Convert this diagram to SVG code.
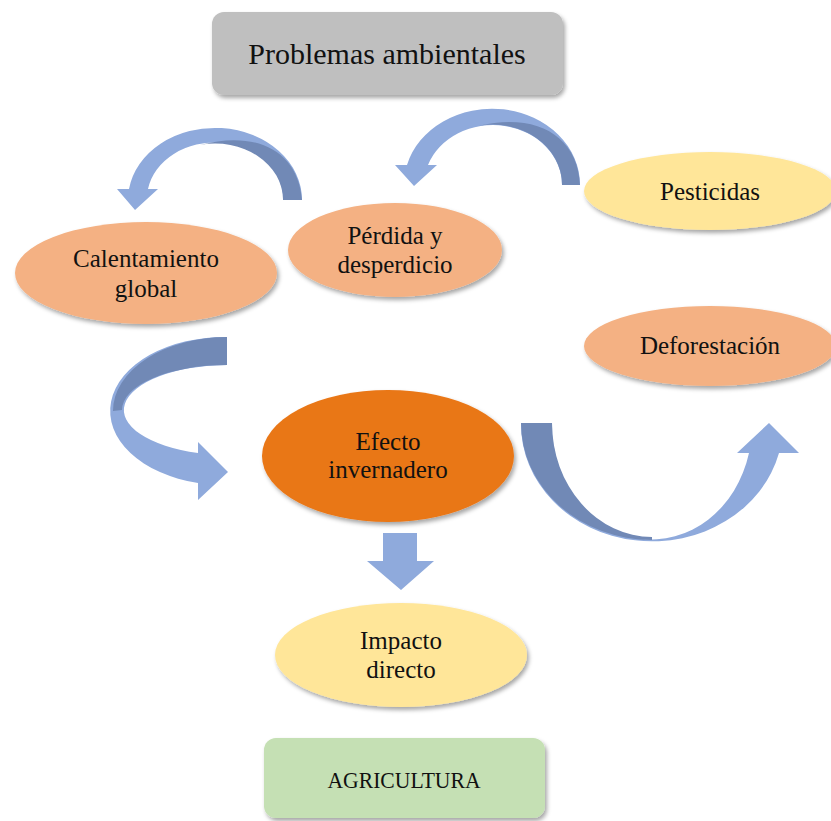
<svg xmlns="http://www.w3.org/2000/svg" width="831" height="821" viewBox="0 0 831 821">
<defs>
<filter id="sh" x="-10%" y="-10%" width="125%" height="130%">
<feDropShadow dx="2" dy="3" stdDeviation="2" flood-color="#000" flood-opacity="0.35"/>
</filter>
<style>
.t{font-family:"Liberation Serif","Times New Roman",serif;fill:#111;text-anchor:middle;font-size:25px}
.big{font-size:30px}
.ag{font-size:24px}
.gray{fill:#bfbfbf}
.peach{fill:#f4b183}
.yel{fill:#ffe699}
.org{fill:#e97719}
.grn{fill:#c5e0b4}
.al{fill:#8faadc}
.ad{fill:#7189b6}
</style>
</defs>
<rect width="831" height="821" fill="#fff"/>
<g id="connectors">
<g id="arrow1">
<path class="al" d="M302 200 A87 72 0 0 0 129 189 L117 189 L135 210 L158 189 L148 189 A68 56 0 0 1 283 200 Z"/>
<path class="ad" d="M283 200 A68 56 0 0 0 200 145 C255 130 298 150 302 200 Z"/>
</g>
<g id="arrow2">
<path class="al" d="M580 185 A88 76 0 0 0 407 165 L395 165 L414 186 L437 165 L428 165 A69 60 0 0 1 562 185 Z"/>
<path class="ad" d="M562 185 A69 60 0 0 0 478 126 C535 112 578 135 580 185 Z"/>
</g>
<g id="arrow3">
<path class="al" d="M227 337 A114 74 0 0 0 198 483 L198 500 L228 472 L198 442 L198 453 A105 45 0 0 1 227 365 Z"/>
<path class="ad" d="M227 337 A114 74 0 0 0 113 411 L122 410 A105 45 0 0 1 227 365 Z"/>
</g>
<g id="arrow4">
<path class="al" d="M521 423 A131 117 0 0 0 779 453 L799 453 L769 423 L737 453 L749 453 A100 114 0 0 1 552 423 Z"/>
<path class="ad" d="M521 423 A131 117 0 0 0 652 540 L652 537 A100 114 0 0 1 552 423 Z"/>
</g>
<path id="arrow5" class="al" d="M383 533 L417 533 L417 561 L434 561 L401 590 L367 561 L383 561 Z"/>
</g>
<g id="problemas">
<rect class="gray" x="212" y="12" width="351" height="83" rx="12" filter="url(#sh)"/>
<text class="t big" x="387" y="64">Problemas ambientales</text>
</g>
<g id="calentamiento">
<ellipse class="peach" cx="146" cy="273" rx="131" ry="51" filter="url(#sh)"/>
<text class="t" x="146" y="267">Calentamiento</text>
<text class="t" x="146" y="297">global</text>
</g>
<g id="perdida">
<ellipse class="peach" cx="395" cy="250" rx="107" ry="47" filter="url(#sh)"/>
<text class="t" x="395" y="244">Pérdida y</text>
<text class="t" x="395" y="273">desperdicio</text>
</g>
<g id="pesticidas">
<ellipse class="yel" cx="710" cy="191" rx="126" ry="39" filter="url(#sh)"/>
<text class="t" x="710" y="200">Pesticidas</text>
</g>
<g id="deforestacion">
<ellipse class="peach" cx="710" cy="346" rx="126" ry="40" filter="url(#sh)"/>
<text class="t" x="710" y="354">Deforestación</text>
</g>
<g id="efecto">
<ellipse class="org" cx="388" cy="456" rx="126" ry="66" filter="url(#sh)"/>
<text class="t" x="388" y="450">Efecto</text>
<text class="t" x="388" y="478">invernadero</text>
</g>
<g id="impacto">
<ellipse class="yel" cx="401" cy="655" rx="126" ry="52" filter="url(#sh)"/>
<text class="t" x="401" y="649">Impacto</text>
<text class="t" x="401" y="678">directo</text>
</g>
<g id="agricultura">
<rect class="grn" x="264" y="738" width="281" height="80" rx="12" filter="url(#sh)"/>
<text class="t ag" x="404" y="788" textLength="153" lengthAdjust="spacingAndGlyphs">AGRICULTURA</text>
</g>
</svg>
